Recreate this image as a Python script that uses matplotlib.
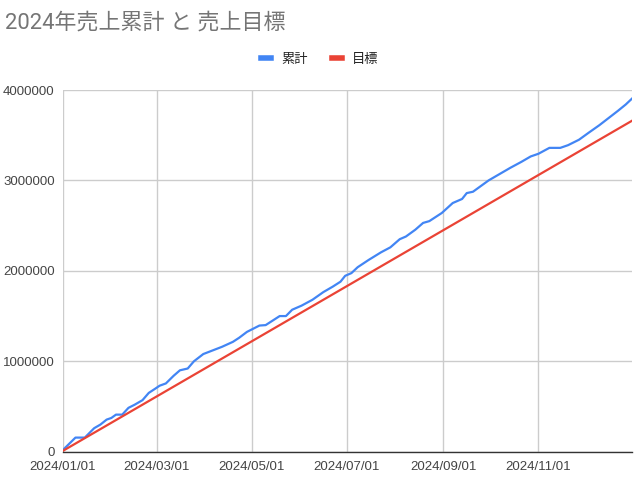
import matplotlib
matplotlib.use("Agg")
import matplotlib.pyplot as plt
import matplotlib.dates as mdates
from matplotlib.ticker import FuncFormatter, FixedLocator
from matplotlib.lines import Line2D
import pandas as pd

actual_dates = [
    "2024-01-01", "2024-01-09", "2024-01-15", "2024-01-21", "2024-01-25", "2024-01-29",
    "2024-02-01", "2024-02-04", "2024-02-08", "2024-02-12", "2024-02-16", "2024-02-21",
    "2024-02-25", "2024-02-29", "2024-03-03", "2024-03-07", "2024-03-12", "2024-03-16",
    "2024-03-21", "2024-03-25", "2024-03-31", "2024-04-06", "2024-04-12", "2024-04-19",
    "2024-04-23", "2024-04-28", "2024-05-06", "2024-05-10", "2024-05-19", "2024-05-23",
    "2024-05-27", "2024-06-02", "2024-06-09", "2024-06-16", "2024-06-22", "2024-06-27",
    "2024-06-30", "2024-07-04", "2024-07-08", "2024-07-15", "2024-07-23", "2024-07-29",
    "2024-08-04", "2024-08-08", "2024-08-14", "2024-08-19", "2024-08-23", "2024-08-31",
    "2024-09-07", "2024-09-13", "2024-09-16", "2024-09-20", "2024-09-24", "2024-09-30",
    "2024-10-07", "2024-10-14", "2024-10-21", "2024-10-27", "2024-11-01", "2024-11-08",
    "2024-11-15", "2024-11-20", "2024-11-27", "2024-12-03", "2024-12-10", "2024-12-16",
    "2024-12-22", "2024-12-27", "2024-12-31",
]
actual_values = [
    20000, 156000, 156000, 260000, 300000, 355000,
    373000, 410000, 410000, 485000, 520000, 570000,
    650000, 695000, 730000, 755000, 840000, 900000,
    920000, 1000000, 1080000, 1120000, 1160000, 1215000,
    1260000, 1325000, 1395000, 1400000, 1500000, 1500000,
    1570000, 1615000, 1680000, 1765000, 1825000, 1880000,
    1945000, 1975000, 2040000, 2120000, 2205000, 2260000,
    2350000, 2380000, 2455000, 2530000, 2550000, 2640000,
    2750000, 2795000, 2860000, 2875000, 2925000, 3000000,
    3070000, 3140000, 3205000, 3265000, 3295000, 3360000,
    3360000, 3390000, 3450000, 3525000, 3610000, 3690000,
    3770000, 3840000, 3905000,
]

# 目標 (target), straight line
target_dates = ["2024-01-01", "2024-12-31"]
target_values = [10000, 3660000]

title = "2024年売上累計 と 売上目標"
series_names = ["累計", "目標"]
x_ticks = ["2024-01-01", "2024-03-01", "2024-05-01", "2024-07-01", "2024-09-01", "2024-11-01"]
y_ticks = [0, 1000000, 2000000, 3000000, 4000000]

blue = "#4285F4"
red = "#EA4335"
cjk = ["Roboto", "Noto Sans CJK JP", "DejaVu Sans"]
plt.rcParams["font.family"] = ["Liberation Sans", "Noto Sans CJK JP", "DejaVu Sans"]

fig = plt.figure(figsize=(6.4, 4.84), dpi=100)
ax = fig.add_axes([63 / 640, 1 - 451.7 / 484, (632 - 63) / 640, (451.7 - 90) / 484])

ax.plot(pd.to_datetime(actual_dates), actual_values, color=blue, lw=1.6,
        solid_joinstyle="round", zorder=3)
ax.plot(pd.to_datetime(target_dates), target_values, color=red, lw=1.6, zorder=3)

ax.set_xlim(pd.Timestamp("2024-01-01"), pd.Timestamp("2024-12-31"))
ax.set_ylim(0, 4000000)
ax.xaxis.set_major_locator(FixedLocator(mdates.date2num(pd.to_datetime(x_ticks))))
ax.xaxis.set_major_formatter(mdates.DateFormatter("%Y/%m/%d"))
ax.yaxis.set_major_locator(FixedLocator(y_ticks))
ax.yaxis.set_major_formatter(FuncFormatter(lambda v, p: f"{int(v)}"))

ax.grid(True, color="#cccccc", lw=1)
ax.set_axisbelow(True)
for s in ["top", "right", "left"]:
    ax.spines[s].set_visible(False)
ax.spines["bottom"].set_color("#333333")
ax.spines["bottom"].set_linewidth(1)
ax.spines["bottom"].set_zorder(4)
ax.tick_params(length=0, labelsize=9.5, colors="#444444")
ax.tick_params(axis="x", pad=7)
ax.tick_params(axis="y", pad=6)

fig.text(5 / 640, 1 - 23 / 484, title, fontsize=15.8, color="#757575",
         family=cjk, va="center", ha="left")

handles = [Line2D([], [], color=blue, lw=4), Line2D([], [], color=red, lw=4)]
fig.legend(handles, series_names, loc="center", bbox_to_anchor=(0.5, 1 - 59 / 484),
           ncol=2, frameon=False, handlelength=0.75, handletextpad=0.8,
           columnspacing=1.8, prop={"family": cjk, "size": 9.5},
           labelcolor="#222222")

fig.savefig("out.png", dpi=100)
